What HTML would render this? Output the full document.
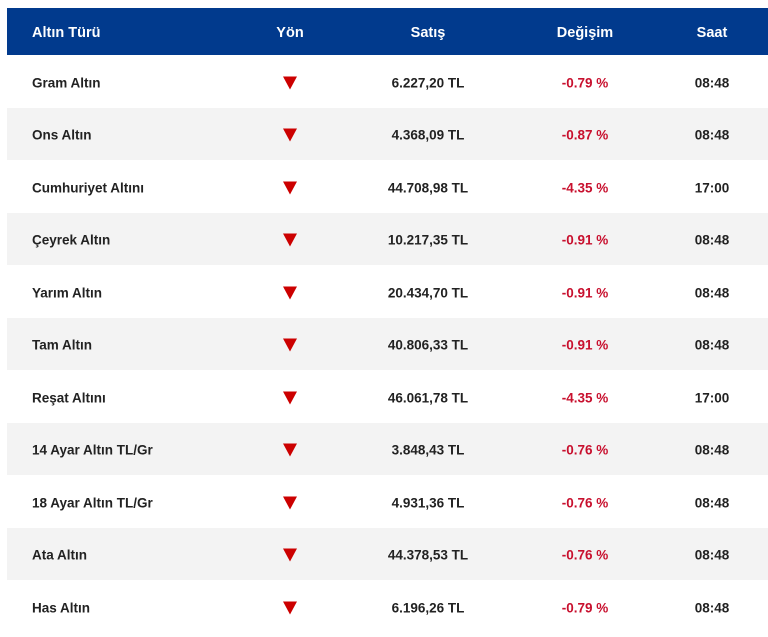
<!DOCTYPE html>
<html><head><meta charset="utf-8"><style>
body{margin:0;width:768px;height:637px;background:#fff;font-family:"Liberation Sans",sans-serif;overflow:hidden}
.t{position:absolute;left:7px;top:8px;width:761px}
.h{height:47px;background:#013a8d;color:#fff;font-weight:bold;font-size:14.5px;position:relative}
.r{height:52.5px;position:relative;color:#222;font-weight:bold;font-size:13.5px}
.r:nth-child(odd){background:#f3f3f3}
.c{position:absolute;top:calc(50% + 1.5px);transform:translate(-50%,-50%);white-space:nowrap}
.h .c,.h .a{top:calc(50% + 1px)}
.a{position:absolute;top:calc(50% + 1.5px);transform:translateY(-50%);left:25px}
.red{color:#c8102e}
.tri{width:0;height:0;border-left:7.5px solid transparent;border-right:7.5px solid transparent;border-top:13px solid #c00}
</style></head><body><div class="t">
<div class="h"><span class="a">Altın Türü</span><span class="c" style="left:283px">Yön</span><span class="c" style="left:421px">Satış</span><span class="c" style="left:578px">Değişim</span><span class="c" style="left:705px">Saat</span></div>
<div class="r"><span class="a">Gram Altın</span><span class="c tri" style="left:283px"></span><span class="c" style="left:421px">6.227,20 TL</span><span class="c red" style="left:578px">-0.79 %</span><span class="c" style="left:705px">08:48</span></div>
<div class="r"><span class="a">Ons Altın</span><span class="c tri" style="left:283px"></span><span class="c" style="left:421px">4.368,09 TL</span><span class="c red" style="left:578px">-0.87 %</span><span class="c" style="left:705px">08:48</span></div>
<div class="r"><span class="a">Cumhuriyet Altını</span><span class="c tri" style="left:283px"></span><span class="c" style="left:421px">44.708,98 TL</span><span class="c red" style="left:578px">-4.35 %</span><span class="c" style="left:705px">17:00</span></div>
<div class="r"><span class="a">Çeyrek Altın</span><span class="c tri" style="left:283px"></span><span class="c" style="left:421px">10.217,35 TL</span><span class="c red" style="left:578px">-0.91 %</span><span class="c" style="left:705px">08:48</span></div>
<div class="r"><span class="a">Yarım Altın</span><span class="c tri" style="left:283px"></span><span class="c" style="left:421px">20.434,70 TL</span><span class="c red" style="left:578px">-0.91 %</span><span class="c" style="left:705px">08:48</span></div>
<div class="r"><span class="a">Tam Altın</span><span class="c tri" style="left:283px"></span><span class="c" style="left:421px">40.806,33 TL</span><span class="c red" style="left:578px">-0.91 %</span><span class="c" style="left:705px">08:48</span></div>
<div class="r"><span class="a">Reşat Altını</span><span class="c tri" style="left:283px"></span><span class="c" style="left:421px">46.061,78 TL</span><span class="c red" style="left:578px">-4.35 %</span><span class="c" style="left:705px">17:00</span></div>
<div class="r"><span class="a">14 Ayar Altın TL/Gr</span><span class="c tri" style="left:283px"></span><span class="c" style="left:421px">3.848,43 TL</span><span class="c red" style="left:578px">-0.76 %</span><span class="c" style="left:705px">08:48</span></div>
<div class="r"><span class="a">18 Ayar Altın TL/Gr</span><span class="c tri" style="left:283px"></span><span class="c" style="left:421px">4.931,36 TL</span><span class="c red" style="left:578px">-0.76 %</span><span class="c" style="left:705px">08:48</span></div>
<div class="r"><span class="a">Ata Altın</span><span class="c tri" style="left:283px"></span><span class="c" style="left:421px">44.378,53 TL</span><span class="c red" style="left:578px">-0.76 %</span><span class="c" style="left:705px">08:48</span></div>
<div class="r"><span class="a">Has Altın</span><span class="c tri" style="left:283px"></span><span class="c" style="left:421px">6.196,26 TL</span><span class="c red" style="left:578px">-0.79 %</span><span class="c" style="left:705px">08:48</span></div>
</div></body></html>
